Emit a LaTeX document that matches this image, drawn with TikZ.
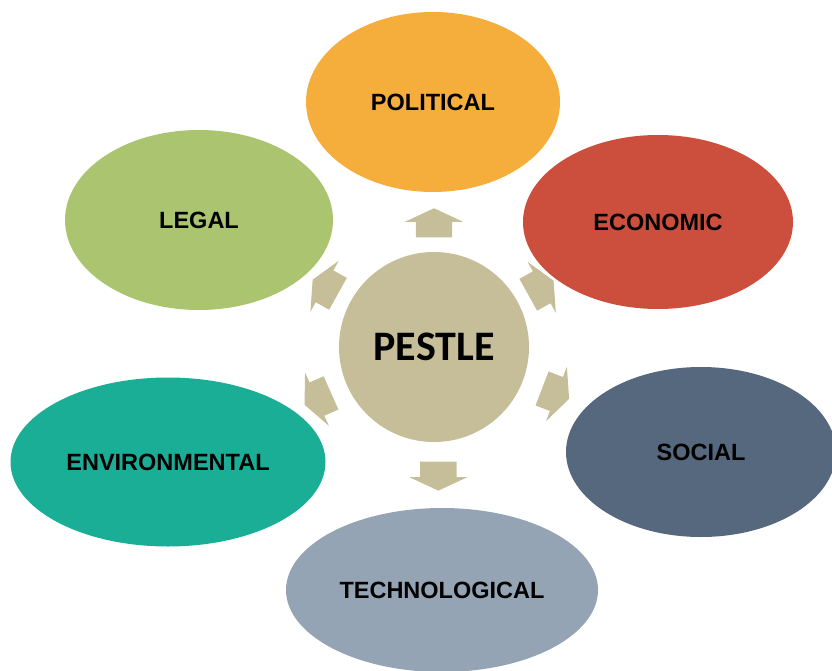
\documentclass[tikz,border=0pt]{standalone}
\usepackage{fontspec}
\setmainfont{Liberation Sans}
\newfontfamily\calibri{Carlito}
\usetikzlibrary{shapes.geometric,shapes.arrows}

\definecolor{polcol}{HTML}{F5AE3C}
\definecolor{ecocol}{HTML}{CC4F3D}
\definecolor{soccol}{HTML}{56687E}
\definecolor{teccol}{HTML}{95A4B5}
\definecolor{envcol}{HTML}{1BAE96}
\definecolor{legcol}{HTML}{ABC46F}
\definecolor{hubcol}{HTML}{C5BE98}

\begin{document}
\begin{tikzpicture}[x=1pt,y=1pt,
	blob/.style={ellipse,inner sep=0pt,font=\fontsize{23.5}{26}\selectfont\bfseries},
	pointer/.style={single arrow,fill=hubcol,inner xsep=0pt,inner ysep=18pt,minimum height=29pt,
		single arrow head extend=11pt,single arrow tip angle=130}]
	\useasboundingbox (0,0) rectangle (832,-671);
	\clip (0,0) rectangle (832,-671);
	% centre
	\node[circle,fill=hubcol,minimum size=190pt,inner sep=0pt,
		font=\calibri\fontsize{42}{46}\selectfont\bfseries] (pestle) at (434,-347) {PESTLE};
	% the six factors
	\node[blob,fill=polcol,minimum width=254pt,minimum height=180pt] (political) at (433,-102) {POLITICAL};
	\node[blob,fill=ecocol,minimum width=270pt,minimum height=174pt] (economic) at (658,-222) {ECONOMIC};
	\node[blob,fill=soccol,minimum width=270pt,minimum height=170pt] (social) at (701,-452) {SOCIAL};
	\node[blob,fill=teccol,minimum width=312pt,minimum height=164pt] (technological) at (442,-590) {TECHNOLOGICAL};
	\node[blob,fill=envcol,minimum width=315pt,minimum height=169pt] (environmental) at (168,-462) {ENVIRONMENTAL};
	\node[blob,fill=legcol,minimum width=268pt,minimum height=180pt] (legal) at (199,-220) {LEGAL};
	% arrows pointing out of the centre
	\node[pointer,rotate=90] (topar) at ([shift={(90:120)}]pestle.center) {};
	\node[pointer,rotate=29] (ecoar) at ([shift={(29:118)}]pestle.center) {};
	\node[pointer,rotate=-21] (socar) at ([shift={(-21:126)}]pestle.center) {};
	\node[pointer,rotate=-90] (tecar) at ([shift={(-88:125)}]pestle.center) {};
	\node[pointer,rotate=204] (envar) at ([shift={(204:123)}]pestle.center) {};
	\node[pointer,rotate=151] (legar) at ([shift={(151:120)}]pestle.center) {};
\end{tikzpicture}
\end{document}
